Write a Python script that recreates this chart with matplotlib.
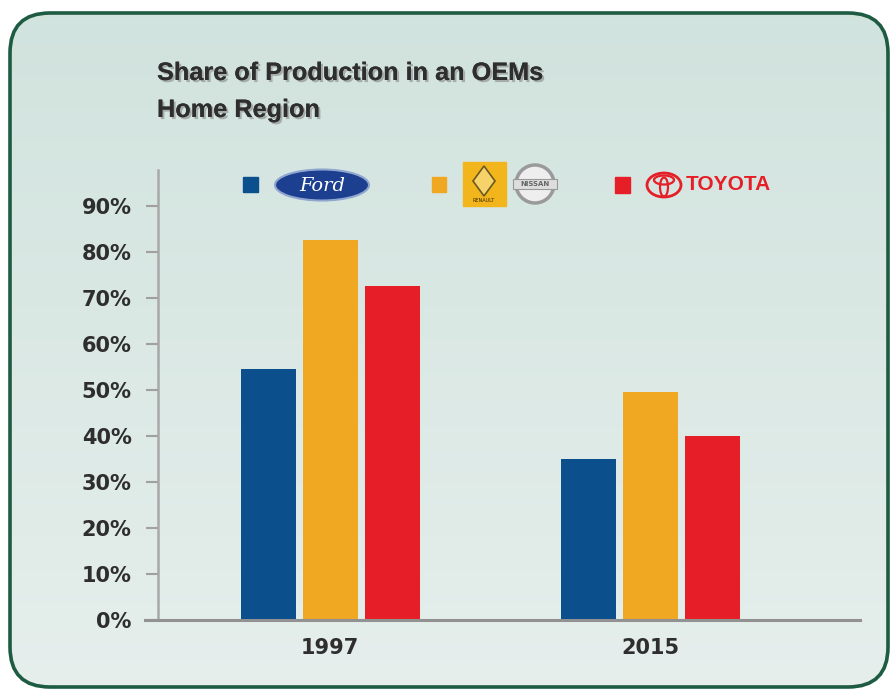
import matplotlib.pyplot as plt
import matplotlib.patheffects as pe
import numpy as np
from matplotlib.patches import FancyBboxPatch, Rectangle, Ellipse, Circle, Polygon

# data
years = ["1997", "2015"]
ford = [54.5, 35.0]
renault_nissan = [82.5, 49.5]
toyota = [72.5, 40.0]
yticks = [0, 10, 20, 30, 40, 50, 60, 70, 80, 90]
title_lines = ["Share of Production in an OEMs", "Home Region"]

BLUE = "#0b4f8c"
ORANGE = "#f0a823"
RED = "#e61e27"
TXT = "#2e2e2e"

W, H = 896, 692
fig = plt.figure(figsize=(W / 100, H / 100), dpi=100)
fig.patch.set_facecolor("white")

# ─ background panel (pixel coords)
bg = fig.add_axes([0, 0, 1, 1], zorder=0)
bg.set_xlim(0, W)
bg.set_ylim(H, 0)
bg.axis("off")
panel = FancyBboxPatch((10, 13), 878, 674, boxstyle="round,pad=0,rounding_size=40",
                       facecolor="none", edgecolor="#1d5c42", linewidth=2.6, zorder=3)
bg.add_patch(panel)
grad = np.linspace(0, 1, 256).reshape(-1, 1)
c_top = np.array([0.82, 0.89, 0.87])
c_bot = np.array([0.90, 0.935, 0.925])
img = c_top + (c_bot - c_top) * grad[..., None] * np.ones((1, 2, 1))
im = bg.imshow(img, extent=(10, 888, 687, 13), aspect="auto", zorder=1)
im.set_clip_path(panel)

# title
shadow = [pe.withSimplePatchShadow(offset=(1.5, -1.5), shadow_rgbFace="#888888", alpha=0.6), pe.Normal()]
for line, yb in zip(title_lines, [80, 117]):
    bg.text(157, yb, line, fontsize=18.2, fontweight="bold", family="Liberation Sans",
            color=TXT, va="baseline", ha="left", path_effects=shadow, zorder=5)

# ─ legend with logo-like marks
bg.add_patch(Rectangle((243, 177), 15, 15, color=BLUE, zorder=5))
bg.add_patch(Ellipse((322, 185), 94, 31, facecolor="#1c3f8f", edgecolor="#8fa6cf", linewidth=1.5, zorder=5))
bg.text(322, 186, "Ford", color="white", fontsize=14, style="italic", family="DejaVu Serif",
        ha="center", va="center", zorder=6)

bg.add_patch(Rectangle((432, 177), 14, 15, color=ORANGE, zorder=5))
bg.add_patch(Rectangle((463, 162), 43, 44, color="#f2b51c", zorder=5))
bg.add_patch(Polygon([(484, 166), (495, 181), (484, 196), (473, 181)], closed=True,
                     facecolor="#f6d36a", edgecolor="#6b5a20", linewidth=1.2, zorder=6))
bg.text(484, 201, "RENAULT", fontsize=3.5, color="#3a2a00", ha="center", va="center", zorder=6)
bg.add_patch(Circle((535, 184), 19, facecolor="#eeeeee", edgecolor="#9a9a9a", linewidth=2.5, zorder=5))
bg.add_patch(Rectangle((513, 179), 44, 10, facecolor="#dddddd", edgecolor="#999999", linewidth=0.8, zorder=6))
bg.text(535, 184, "NISSAN", fontsize=5, fontweight="bold", color="#666666", ha="center", va="center", zorder=7)

bg.add_patch(Rectangle((615, 177), 15, 16, color=RED, zorder=5))
bg.add_patch(Ellipse((664, 185), 34, 24, facecolor="none", edgecolor=RED, linewidth=2, zorder=5))
bg.add_patch(Ellipse((664, 180), 20, 9, facecolor="none", edgecolor=RED, linewidth=1.6, zorder=5))
bg.add_patch(Ellipse((664, 187), 8, 19, facecolor="none", edgecolor=RED, linewidth=1.6, zorder=5))
bg.text(686, 185, "TOYOTA", fontsize=15, fontweight="bold", color=RED, family="Liberation Sans",
        ha="left", va="center", zorder=5)

# ─ bar chart
x0, x1, ytop, ybot = 158, 860, 170, 620
ax = fig.add_axes([x0 / W, 1 - ybot / H, (x1 - x0) / W, (ybot - ytop) / H], zorder=2)
ax.patch.set_alpha(0)
px = 320.0
ax.set_xlim(-172 / px, 1 + 210 / px)
ax.set_ylim(0, (ybot - ytop) / 46.0 * 10)

x = np.arange(len(years))
bw = 55 / px
step = 62 / px
ax.bar(x - step, ford, bw, color=BLUE, zorder=3)
ax.bar(x, renault_nissan, bw, color=ORANGE, zorder=3)
ax.bar(x + step, toyota, bw, color=RED, zorder=3)

ax.set_yticks(yticks)
ax.set_yticklabels([f"{v}%" for v in yticks], fontsize=15, fontweight="bold", color=TXT)
ax.set_xticks(x)
ax.set_xticklabels(years, fontsize=15, fontweight="bold", color=TXT)
ax.tick_params(axis="y", length=9, width=1.5, color="#a0a0a0", pad=10)
ax.tick_params(axis="x", length=0, pad=13)
for s in ["top", "right", "bottom"]:
    ax.spines[s].set_visible(False)
ax.spines["left"].set_color("#a8a8a8")
ax.spines["left"].set_linewidth(1.8)
# baseline reaching out to the tick marks
ax.plot([-13 / (x1 - x0), 1], [0, 0], transform=ax.transAxes, color="#929292",
        linewidth=2.2, clip_on=False, zorder=4)

fig.savefig("out.png", dpi=100)
